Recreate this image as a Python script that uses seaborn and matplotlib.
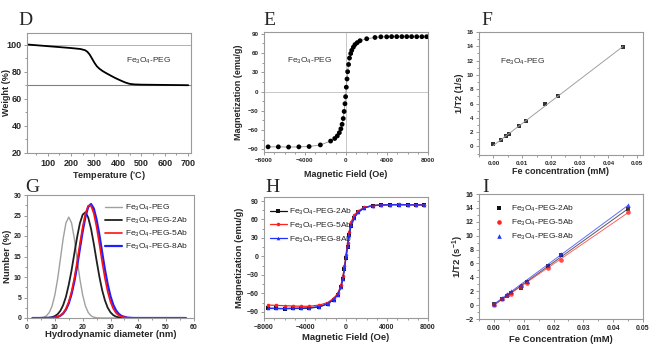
import numpy as np
import pandas as pd
import matplotlib
matplotlib.use("Agg")
import matplotlib.pyplot as plt
from matplotlib.ticker import MultipleLocator, AutoMinorLocator
from matplotlib.lines import Line2D
import seaborn as sns

sns.set_theme(style="ticks")
plt.rcParams['font.family'] = ['Liberation Sans', 'DejaVu Sans']
plt.rcParams['mathtext.default'] = 'regular'

# ---------------- data ----------------
# D: TGA
tga_temp = [15, 50, 100, 150, 200, 240, 260, 270, 280, 290, 300, 310, 320, 335, 350,
            370, 390, 410, 430, 450, 470, 500, 550, 600, 650, 700]
tga_weight = [100, 99.5, 98.8, 98.1, 97.4, 96.7, 95.8, 94.6, 92.5, 89.5, 86.5, 84, 82.3,
              80.4, 78.9, 77, 75.2, 73.6, 72.1, 71, 70.6, 70.4, 70.3, 70.2, 70.1, 70.0]

# E: magnetization Fe3O4-PEG
e_field = [-7600, -6600, -5600, -4600, -3600, -2500, -1500, -1100, -850, -650, -500, -380,
           -270, -180, -100, -40, 30, 100, 160, 250, 340, 460, 560, 720, 880, 1100, 1370,
           2020, 2830, 3400, 3970, 4450, 4950, 5450, 5930, 6400, 6900, 7400, 7870]
e_mag = [-86, -86, -86.3, -86, -85.5, -83, -77, -73, -69, -64, -58, -51,
         -42, -31, -19, -8, 6.7, 19.5, 30.8, 42, 52, 59, 64, 69, 73, 76, 79,
         82, 84, 85, 85, 85.3, 85.3, 85.3, 85.3, 85.3, 85.2, 85.2, 85.2]

# F: relaxivity Fe3O4-PEG
f_conc = [0.0, 0.0028, 0.0045, 0.0056, 0.009, 0.0112, 0.018, 0.0225, 0.045]
f_r2 = [0.3, 0.9, 1.4, 1.8, 2.8, 3.5, 5.9, 7.1, 13.9]

# G: DLS number distribution
g_diam = [2, 4, 6, 7, 8, 9, 10, 11, 12, 13, 14, 15, 16, 17, 18, 19, 20, 21, 22, 23, 24,
          25, 26, 27, 28, 29, 30, 31, 32, 33, 34, 36, 38, 40, 45, 50, 57]
g_peg = [0, 0, 0.2, 0.55, 1.34, 2.9, 5.6, 9.5, 14.4, 19.4, 23.2, 24.6, 23.2, 19.4, 14.4,
         9.5, 5.6, 2.9, 1.34, 0.55, 0.2, 0.06, 0.02, 0, 0, 0, 0, 0, 0, 0, 0, 0, 0, 0, 0, 0, 0]
g_2ab = [0, 0, 0.02, 0.05, 0.09, 0.2, 0.46, 0.93, 1.77, 3.15, 5.2, 8.1, 11.6, 15.7, 19.7,
         23.1, 25.2, 25.8, 24.5, 21.8, 18.1, 14.0, 10.1, 6.8, 4.3, 2.5, 1.37, 0.7, 0.34,
         0.15, 0.06, 0.01, 0, 0, 0, 0, 0]
g_5ab = [0, 0, 0, 0.01, 0.02, 0.05, 0.12, 0.28, 0.61, 1.21, 2.26, 3.94, 6.39, 9.69, 13.7,
         18.1, 22.2, 25.5, 27.4, 27.4, 25.5, 22.2, 18.1, 13.7, 9.69, 6.39, 3.94, 2.26, 1.21,
         0.61, 0.28, 0.05, 0.01, 0, 0, 0, 0]
g_8ab = [0, 0, 0, 0.01, 0.02, 0.05, 0.12, 0.27, 0.56, 1.11, 2.06, 3.57, 5.81, 8.85, 12.6,
         16.9, 21.1, 24.7, 27.1, 27.8, 26.7, 24.0, 20.3, 16.0, 11.8, 8.2, 5.3, 3.2, 1.83,
         0.98, 0.48, 0.1, 0.01, 0, 0, 0, 0]

# H: magnetization of antibody conjugates
h_field = [-7600, -6800, -6000, -5200, -4400, -3600, -2600, -1800, -1200, -800, -500, -300,
           -150, 0, 150, 300, 500, 800, 1200, 1800, 2600, 3400, 4300, 5200, 6000, 6800, 7600]
h_2ab = [-84.5, -84.5, -85, -84.5, -84.5, -84, -82, -77, -70, -62, -50, -36, -20, -2, 16,
         34, 50, 63, 72, 79, 82.5, 83.5, 84, 84, 84, 84, 84]
h_5ab = [-79, -79.5, -80, -80.5, -81, -81, -79, -75, -68, -60, -47, -32, -15, 3, 22, 40,
         56, 67, 74, 80, 82.5, 83.5, 84, 84.5, 84, 84, 83.5]
h_8ab = [-84, -84.5, -84.5, -84, -84, -83.5, -81.5, -77, -70, -62, -50, -36, -19, -1, 17,
         35, 51, 63, 72, 79, 82.5, 83.5, 84, 84, 84, 83.5, 83.5]

# I: relaxivity of antibody conjugates
i_conc = [0.0, 0.0028, 0.0045, 0.0056, 0.009, 0.0112, 0.018, 0.0225, 0.045]
i_2ab = [0.15, 0.9, 1.3, 1.7, 2.5, 3.4, 5.6, 7.2, 13.8]
i_5ab = [0.05, 0.9, 1.5, 1.6, 2.7, 3.2, 5.4, 6.5, 13.4]
i_8ab = [0.2, 1.0, 1.6, 2.0, 2.9, 3.5, 5.8, 7.3, 14.4]

names3 = ['Fe$_3$O$_4$-PEG-2Ab', 'Fe$_3$O$_4$-PEG-5Ab', 'Fe$_3$O$_4$-PEG-8Ab']
name_peg = 'Fe$_3$O$_4$-PEG'

# ---------------- figure ----------------
W, H = 660, 359
fig = plt.figure(figsize=(W / 100, H / 100), dpi=100)

def make_ax(x0, x1, ytop, ybot):
    return fig.add_axes([x0 / W, 1 - ybot / H, (x1 - x0) / W, (ybot - ytop) / H])

SPINE = '#9a9a9a'

def style(ax, tick_fs):
    for s in ax.spines.values():
        s.set_color(SPINE)
        s.set_linewidth(0.8)
    ax.tick_params(which='both', direction='out', color=SPINE, width=0.7,
                   top=False, right=False)
    ax.tick_params(which='major', length=2.5, labelsize=tick_fs, pad=1.5)
    ax.tick_params(which='minor', length=1.5)
    for lab in ax.get_xticklabels() + ax.get_yticklabels():
        lab.set_fontweight('bold')
    ax.grid(False)

def labels(ax, xl, yl, fs, xly, ylx):
    ax.set_xlabel(xl, fontsize=fs, fontweight='bold')
    ax.set_ylabel(yl, fontsize=fs, fontweight='bold')
    ax.xaxis.set_label_coords(0.5, xly)
    ax.yaxis.set_label_coords(ylx, 0.5)

def letter(x, y, s):
    fig.text(x / W, 1 - y / H, s, fontsize=14, family=['Liberation Serif', 'DejaVu Serif'],
             ha='left', va='baseline')

# ---- D ----
axD = make_ax(27, 191, 33, 153)
axD.axhline(100, color='#b0b0b0', lw=0.7)
axD.axhline(70, color='#808080', lw=0.8)
sns.lineplot(x=tga_temp, y=tga_weight, ax=axD, color='black', lw=1.3,
             estimator=None, sort=False)
axD.set_xlim(12, 712)
axD.set_ylim(20, 108.5)
axD.xaxis.set_major_locator(MultipleLocator(100))
axD.xaxis.set_minor_locator(MultipleLocator(50))
axD.yaxis.set_major_locator(MultipleLocator(20))
axD.yaxis.set_minor_locator(MultipleLocator(10))
axD.text(435, 88, name_peg, fontsize=6, va='center', ha='left', color='#333333')
style(axD, 6.5)
labels(axD, 'Temperature ($^{\\circ}$C)', 'Weight (%)', 6.5, -0.13, -0.10)
letter(18, 25, 'D')

# ---- E ----
axE = make_ax(264, 428, 32, 152)
axE.axhline(0, color='#c8c8c8', lw=0.7)
axE.axvline(0, color='#c8c8c8', lw=0.7)
sns.lineplot(x=e_field, y=e_mag, ax=axE, color='#909090', lw=0.6,
             estimator=None, sort=False)
sns.scatterplot(x=e_field, y=e_mag, ax=axE, color='black', marker='o', s=12,
                edgecolor='none', zorder=3)
axE.set_xlim(-8000, 8000)
axE.set_ylim(-94, 92.5)
axE.xaxis.set_major_locator(MultipleLocator(4000))
axE.xaxis.set_minor_locator(MultipleLocator(1000))
axE.yaxis.set_major_locator(MultipleLocator(30))
axE.yaxis.set_minor_locator(MultipleLocator(15))
axE.text(-5800, 47, name_peg, fontsize=6, va='center', ha='left', color='#333333')
style(axE, 4.5)
labels(axE, 'Magnetic Field (Oe)', 'Magnetization (emu/g)', 6.5, -0.15, -0.13)
letter(263, 25, 'E')

# ---- F ----
axF = make_ax(479, 643, 32, 155)
sns.regplot(x=f_conc, y=f_r2, ax=axF, ci=None, truncate=True, marker='s',
            scatter_kws={'s': 8, 'color': 'black', 'linewidths': 0},
            line_kws={'color': '#a0a0a0', 'lw': 0.7})
axF.set_xlim(-0.005, 0.052)
axF.set_ylim(-1.2, 16)
axF.xaxis.set_major_locator(MultipleLocator(0.01))
axF.xaxis.set_minor_locator(MultipleLocator(0.005))
axF.yaxis.set_major_locator(MultipleLocator(2))
axF.yaxis.set_minor_locator(MultipleLocator(1))
axF.xaxis.set_major_formatter(matplotlib.ticker.FormatStrFormatter('%.2f'))
axF.text(0.0023, 11.8, name_peg, fontsize=6, va='center', ha='left', color='#333333')
style(axF, 4.5)
labels(axF, 'Fe concentration (mM)', '1/T2 (1/s)', 6.5, -0.10, -0.09)
letter(481, 25, 'F')

# ---- G ----
axG = make_ax(27, 194, 195, 318)
g_df = pd.DataFrame({
    'd': g_diam * 4,
    'n': g_peg + g_2ab + g_5ab + g_8ab,
    'sample': [name_peg] * len(g_diam) + [names3[0]] * len(g_diam)
              + [names3[1]] * len(g_diam) + [names3[2]] * len(g_diam),
})
g_colors = {name_peg: '#a0a0a0', names3[0]: '#202020', names3[1]: '#ff1010', names3[2]: '#2020ff'}
g_widths = {name_peg: 1.0, names3[0]: 1.3, names3[1]: 1.2, names3[2]: 1.6}
for nm in [name_peg, names3[0], names3[2], names3[1]]:
    sub = g_df[g_df['sample'] == nm]
    sns.lineplot(data=sub, x='d', y='n', ax=axG, color=g_colors[nm], lw=g_widths[nm],
                 estimator=None, sort=False)
axG.set_xlim(0, 60)
axG.set_ylim(0, 30)
axG.xaxis.set_major_locator(MultipleLocator(10))
axG.xaxis.set_minor_locator(MultipleLocator(5))
axG.yaxis.set_major_locator(MultipleLocator(5))
axG.yaxis.set_minor_locator(MultipleLocator(2.5))
handles = [Line2D([], [], color=g_colors[n], lw=g_widths[n]) for n in [name_peg] + names3]
axG.legend(handles, [name_peg] + names3, loc='upper right', frameon=False, fontsize=6,
           handlelength=2.0, handletextpad=0.4, labelspacing=0.35,
           bbox_to_anchor=(1.0, 0.985), borderaxespad=0.3)
style(axG, 5)
labels(axG, 'Hydrodynamic diameter (nm)', 'Number (%)', 6.8, -0.10, -0.09)
letter(25, 192, 'G')

# ---- H ----
axH = make_ax(264, 428, 197, 318)
h_cols = ['#111111', '#ff2020', '#2030ff']
h_marks = ['s', 'o', '^']
for vals, c, m in zip([h_2ab, h_5ab, h_8ab], h_cols, h_marks):
    sns.lineplot(x=h_field, y=vals, ax=axH, color=c, lw=0.9, marker=m, markersize=2.6,
                 markeredgewidth=0, estimator=None, sort=False)
axH.set_xlim(-8000, 8000)
axH.set_ylim(-100, 96.5)
axH.xaxis.set_major_locator(MultipleLocator(4000))
axH.xaxis.set_minor_locator(MultipleLocator(1000))
axH.yaxis.set_major_locator(MultipleLocator(30))
axH.yaxis.set_minor_locator(MultipleLocator(15))
handles = [Line2D([], [], color=c, lw=0.9, marker=m, markersize=2.6, markeredgewidth=0)
           for c, m in zip(h_cols, h_marks)]
axH.legend(handles, names3, loc='upper left', frameon=False, fontsize=6,
           handlelength=2.0, handletextpad=0.3, labelspacing=0.45,
           bbox_to_anchor=(0.0, 0.97), borderaxespad=0.3)
style(axH, 5)
labels(axH, 'Magnetic Field (Oe)', 'Magnetization (emu/g)', 6.8, -0.12, -0.12)
letter(265, 192, 'H')

# ---- I ----
axI = make_ax(479, 643, 194, 319)
i_cols = ['#111111', '#ff2020', '#2030ff']
i_marks = ['s', 'o', '^']
for vals, c, m in zip([i_2ab, i_5ab, i_8ab], i_cols, i_marks):
    sns.regplot(x=i_conc, y=vals, ax=axI, ci=None, truncate=True, marker=m,
                scatter_kws={'s': 11, 'color': c, 'linewidths': 0},
                line_kws={'color': c, 'lw': 0.7, 'alpha': 0.7})
axI.set_xlim(-0.005, 0.05)
axI.set_ylim(-2, 16)
axI.xaxis.set_major_locator(MultipleLocator(0.01))
axI.xaxis.set_minor_locator(MultipleLocator(0.005))
axI.yaxis.set_major_locator(MultipleLocator(2))
axI.yaxis.set_minor_locator(MultipleLocator(1))
axI.xaxis.set_major_formatter(matplotlib.ticker.FormatStrFormatter('%.2f'))
handles = [Line2D([], [], color=c, lw=0, marker=m, markersize=3.3, markeredgewidth=0)
           for c, m in zip(i_cols, i_marks)]
axI.legend(handles, names3, loc='upper left', frameon=False, fontsize=6,
           handlelength=1.5, handletextpad=0.6, labelspacing=0.45,
           bbox_to_anchor=(0.05, 0.97), borderaxespad=0.3)
style(axI, 5)
labels(axI, 'Fe Concentration (mM)', '1/T2 (s$^{-1}$)', 6.8, -0.13, -0.08)
letter(482, 192, 'I')

fig.savefig('out.png', dpi=100)
